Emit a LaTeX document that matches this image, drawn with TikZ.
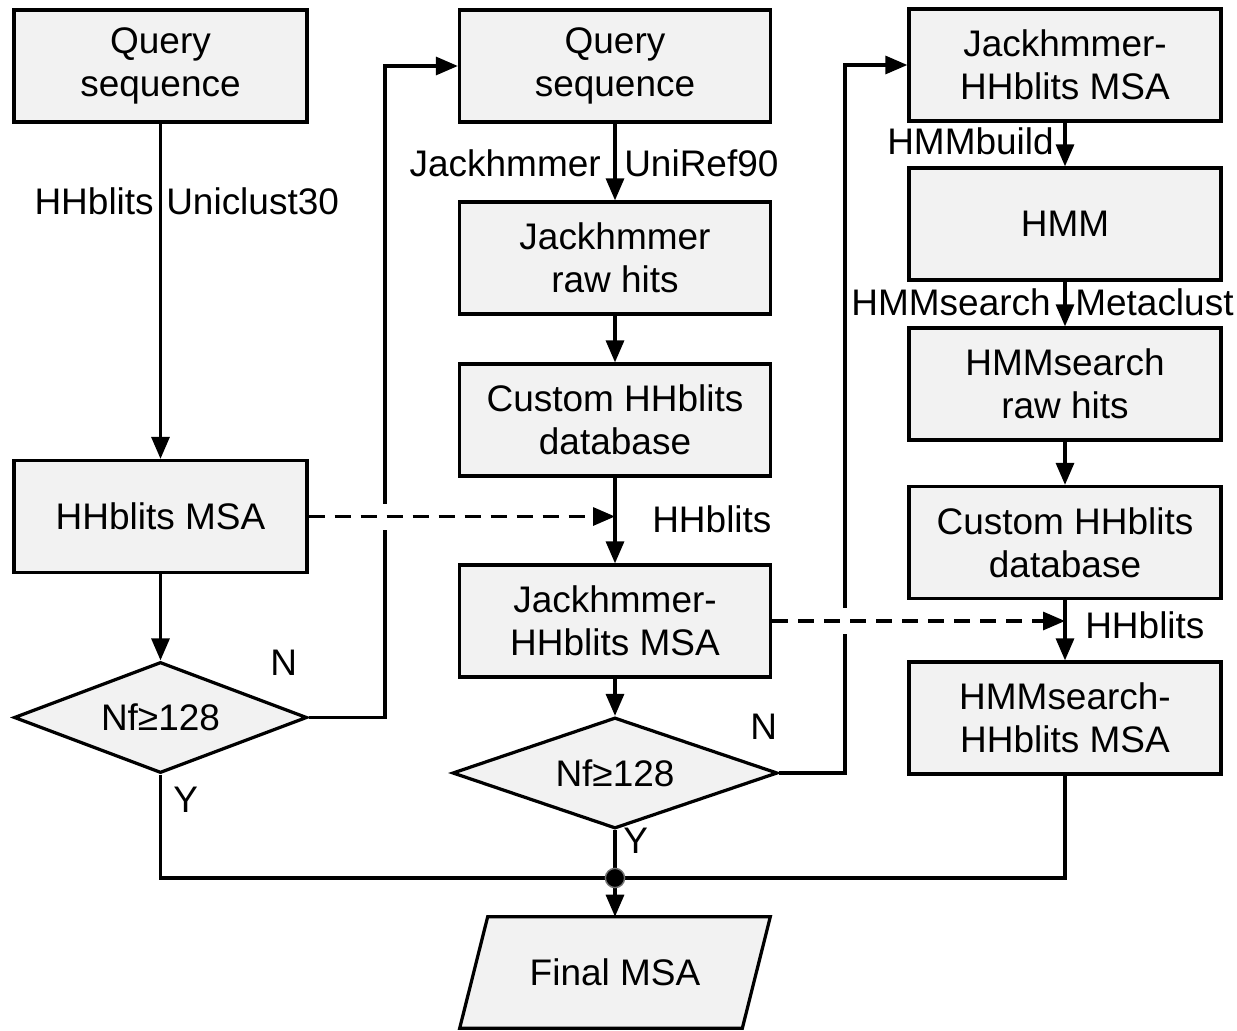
\documentclass[tikz,border=0pt]{standalone}
\usepackage{fontspec}
\setmainfont{Liberation Sans}
\usetikzlibrary{arrows.meta,shapes.geometric,calc,backgrounds}
\definecolor{boxgray}{HTML}{F2F2F2}
\begin{document}
\begin{tikzpicture}[x=0.025cm, y=-0.025cm,
  font=\fontsize{26.3}{30.5}\selectfont,
  every node/.style={inner sep=0pt},
  stepbox/.style={draw, fill=boxgray, line width=2.3pt, align=center, minimum height=2.8cm},
  decision/.style={diamond, draw, fill=boxgray, line width=2.3pt, minimum height=2.775cm},
  outbox/.style={minimum width=7.75cm, minimum height=2.775cm},
  flow/.style={line width=2.3pt, -{Triangle[length=0.55cm,width=0.45cm]}},
  link/.style={line width=2.3pt},
  hint/.style={line width=2.3pt, dash pattern=on 0.4cm off 0.25cm,
    -{Triangle[length=0.55cm,width=0.45cm]}},
]
\useasboundingbox (0,0) rectangle (1237,1031);

% left column: HHblits search
\node[stepbox, minimum width=7.325cm] (q1) at (160.5,66) {Query\\sequence};
\node[stepbox, minimum width=7.325cm] (m1) at (160.5,516.5) {HHblits MSA};
\node[decision, aspect=2.6, minimum width=7.325cm] (d1) at (160.5,717.5) {Nf≥128};

% middle column: Jackhmmer search
\node[stepbox, minimum width=7.775cm] (q2) at (615,66) {Query\\sequence};
\node[stepbox, minimum width=7.775cm] (r2) at (615,258) {Jackhmmer\\raw hits};
\node[stepbox, minimum width=7.775cm] (c2) at (615,420) {Custom HHblits\\database};
\node[stepbox, minimum width=7.775cm] (m2) at (615,621) {Jackhmmer-\\HHblits MSA};
\node[decision, aspect=2.9, minimum width=8.125cm] (d2) at (615,773) {Nf≥128};
\node[outbox] (fin) at (615,972.5) {Final MSA};
\begin{scope}[on background layer]
  % slanted output box behind its label
  \draw[fill=boxgray, line width=2.3pt] (fin.south west) -- ($(fin.north west)+(28,0)$)
    -- (fin.north east) -- ($(fin.south east)+(-28,0)$) -- cycle;
\end{scope}

% right column: HMMsearch
\node[stepbox, minimum width=7.8cm] (m3) at (1065,65) {Jackhmmer-\\HHblits MSA};
\node[stepbox, minimum width=7.8cm] (hmm) at (1065,224) {HMM};
\node[stepbox, minimum width=7.8cm] (h3) at (1065,384) {HMMsearch\\raw hits};
\node[stepbox, minimum width=7.8cm] (c3) at (1065,542.5) {Custom HHblits\\database};
\node[stepbox, minimum width=7.8cm] (s3) at (1065,718) {HMMsearch-\\HHblits MSA};

% routing points
\coordinate (jn) at (615,878);
\coordinate (up1) at (385,0);
\coordinate (up2) at (845,0);

% solid connectors
\draw[flow] (q1) -- (m1);
\draw[flow] (m1) -- (d1);
\draw[flow] (d1.east) -- (d1.east -| up1) |- (q2.west);
\draw[link] (d1.south) |- (jn);

\draw[flow] (q2) -- (r2);
\draw[flow] (r2) -- (c2);
\draw[flow] (c2) -- (m2);
\draw[flow] (m2) -- (d2);
\draw[link] (d2.south) -- (jn);
\draw[flow] (d2.east) -- (d2.east -| up2) |- (m3.west);

\draw[flow] (m3) -- (hmm);
\draw[flow] (hmm) -- (h3);
\draw[flow] (h3) -- (c3);
\draw[flow] (c3) -- (s3);
\draw[link] (s3.south) |- (jn);
\draw[flow] (jn) -- (fin.north);

% dashed inputs, with a break in the lines they cross
\fill[white] ($(up1 |- m1.east)+(-8,-13)$) rectangle ($(up1 |- m1.east)+(8,13)$);
\draw[hint] (m1.east) -- (m1.east -| c2.south);
\fill[white] ($(up2 |- m2.east)+(-8,-13)$) rectangle ($(up2 |- m2.east)+(8,13)$);
\draw[hint] (m2.east) -- (m2.east -| c3.south);

% junction dot
\filldraw[fill=black, draw=black!55, line width=1pt] (jn) circle[radius=0.24cm];

% connector labels
\node[anchor=base east] (t1) at (154,215) {HHblits};
\node[anchor=base west] (t2) at (166,215) {Uniclust30};
\node[anchor=base east] (t3) at (601,177) {Jackhmmer};
\node[anchor=base west] (t4) at (624,177) {UniRef90};
\node[anchor=base west] (t5) at (652,532) {HHblits};
\node[anchor=base east] (t6) at (1054,155) {HMMbuild};
\node[anchor=base east] (t7) at (1051,315) {HMMsearch};
\node[anchor=base west] (t8) at (1075,315) {Metaclust};
\node[anchor=base west] (t9) at (1085,638) {HHblits};
\node[anchor=base west] (n1) at (270,675) {N};
\node[anchor=base west] (y1) at (173,812) {Y};
\node[anchor=base west] (n2) at (750,739) {N};
\node[anchor=base west] (y2) at (623,853) {Y};
\end{tikzpicture}
\end{document}
